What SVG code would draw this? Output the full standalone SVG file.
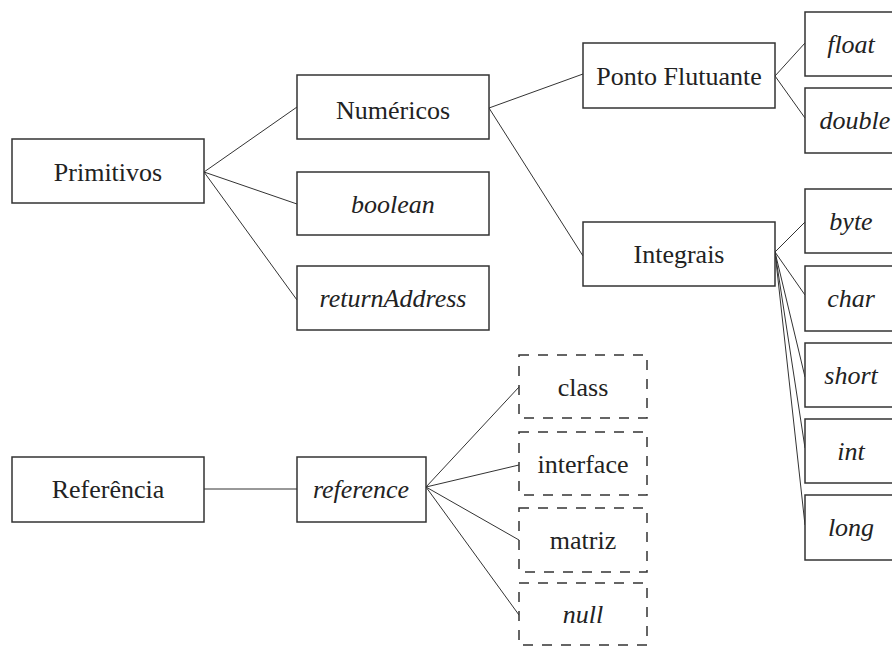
<svg xmlns="http://www.w3.org/2000/svg" width="892" height="648" viewBox="0 0 892 648" font-family="'Liberation Serif', 'Times New Roman', Times, serif">
<style>
.b{fill:#fff;stroke:#333;stroke-width:1.5}
.d{fill:#fff;stroke:#333;stroke-width:1.5;stroke-dasharray:10 9}
.t{font-size:26px;fill:#222;text-anchor:middle}
.i{font-style:italic}
.c line{stroke:#333;stroke-width:1}
</style>
<rect width="892" height="648" fill="#fff"/>
<g class="c" id="connectors">
<line x1="204" y1="172" x2="297" y2="107"/>
<line x1="204" y1="172" x2="297" y2="204"/>
<line x1="204" y1="172" x2="297" y2="300"/>
<line x1="489" y1="108" x2="583" y2="74"/>
<line x1="489" y1="108" x2="583" y2="256"/>
<line x1="775" y1="76" x2="805" y2="43"/>
<line x1="775" y1="76" x2="805" y2="118"/>
<line x1="775" y1="252" x2="805" y2="222"/>
<line x1="775" y1="252" x2="805" y2="295"/>
<line x1="775" y1="252" x2="805" y2="377"/>
<line x1="775" y1="252" x2="805" y2="448"/>
<line x1="775" y1="252" x2="805" y2="525"/>
<line x1="204" y1="489" x2="297" y2="489"/>
<line x1="426" y1="487" x2="519" y2="387"/>
<line x1="426" y1="487" x2="519" y2="465"/>
<line x1="426" y1="487" x2="519" y2="540"/>
<line x1="426" y1="487" x2="519" y2="615"/>
</g>
<g id="primitivos"><rect class="b" x="12" y="139" width="192" height="64"/><text class="t" x="108" y="181">Primitivos</text></g>
<g id="numericos"><rect class="b" x="297" y="75" width="192" height="64"/><text class="t" x="393" y="119">Numéricos</text></g>
<g id="boolean"><rect class="b" x="297" y="172" width="192" height="63"/><text class="t i" x="393" y="213">boolean</text></g>
<g id="returnAddress"><rect class="b" x="297" y="266" width="192" height="64"/><text class="t i" x="393" y="307">returnAddress</text></g>
<g id="pontoFlutuante"><rect class="b" x="583" y="43" width="192" height="65"/><text class="t" x="679" y="85">Ponto Flutuante</text></g>
<g id="integrais"><rect class="b" x="583" y="222" width="192" height="64"/><text class="t" x="679" y="263">Integrais</text></g>
<g id="float"><rect class="b" x="805" y="12" width="100" height="64"/><text class="t i" x="851" y="53">float</text></g>
<g id="double"><rect class="b" x="805" y="88" width="100" height="65"/><text class="t i" x="855" y="129">double</text></g>
<g id="byte"><rect class="b" x="805" y="189" width="100" height="64"/><text class="t i" x="851" y="230">byte</text></g>
<g id="char"><rect class="b" x="805" y="266" width="100" height="65"/><text class="t i" x="851" y="307">char</text></g>
<g id="short"><rect class="b" x="805" y="343" width="100" height="64"/><text class="t i" x="851" y="384">short</text></g>
<g id="int"><rect class="b" x="805" y="419" width="100" height="64"/><text class="t i" x="851" y="460">int</text></g>
<g id="long"><rect class="b" x="805" y="495" width="100" height="65"/><text class="t i" x="851" y="536">long</text></g>
<g id="referencia"><rect class="b" x="12" y="457" width="192" height="65"/><text class="t" x="108" y="498">Referência</text></g>
<g id="reference"><rect class="b" x="297" y="457" width="129" height="65"/><text class="t i" x="361" y="498">reference</text></g>
<g id="class"><rect class="d" x="519" y="355" width="128" height="63"/><text class="t" x="583" y="396">class</text></g>
<g id="interface"><rect class="d" x="519" y="432" width="128" height="63"/><text class="t" x="583" y="473">interface</text></g>
<g id="matriz"><rect class="d" x="519" y="508" width="128" height="64"/><text class="t" x="583" y="549">matriz</text></g>
<g id="null"><rect class="d" x="519" y="583" width="128" height="62"/><text class="t i" x="583" y="623">null</text></g>
</svg>
